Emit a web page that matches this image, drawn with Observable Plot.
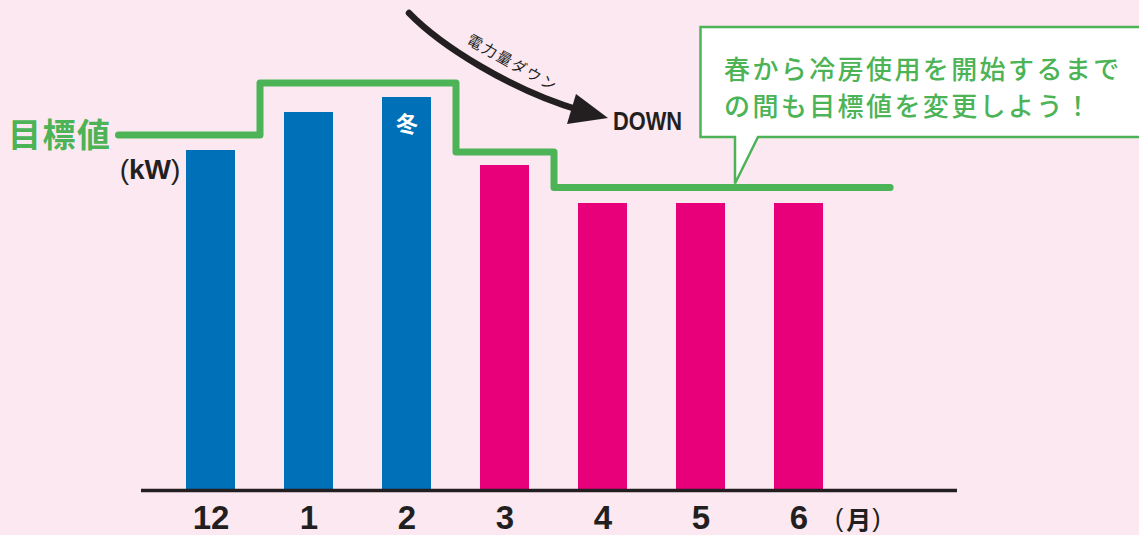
<!DOCTYPE html>
<html><head><meta charset="utf-8">
<script src="https://cdn.jsdelivr.net/npm/d3@7"></script>
<script src="https://cdn.jsdelivr.net/npm/@observablehq/plot@0.6"></script>
<style>
html,body{margin:0;padding:0;background:#fce8f0;overflow:hidden;}
#chart{width:1139px;height:535px;}
svg{display:block;}
</style></head><body><div id="chart"></div>
<script>
// ---- data ----
const months  = ["12","1","2","3","4","5","6"];
const usage   = [340, 378, 393, 325, 287, 287, 287];   // 電力量 (kW, arbitrary units)
const target  = [355.5, 407.5, 407.5, 338.5, 303, 303, 303]; // 目標値
const seasons = ["冬","冬","冬","春","春","春","春"];
const seasonLabel = "冬";
const unitY = "kW";
const unitX = "月";
const targetLabel = "目標値";
const arrowLabel = "電力量ダウン";
const downLabel = "DOWN";
const bubbleLines = ["春から冷房使用を開始するまで", "の間も目標値を変更しよう！"];

const BLUE = "#0070b8", MAGENTA = "#e8007b", GREEN = "#4cb356", INK = "#231f20";

const data = months.map((m, i) => ({i, month: m, usage: usage[i], season: seasons[i]}));
// target step line: change points half-way between months
const lineStart = -0.944, lineEnd = 6.93;
const stepPts = [{x: lineStart, y: target[0]}];
for (let i = 1; i < months.length; i++) stepPts.push({x: i - 0.5, y: target[i]});
stepPts.push({x: lineEnd, y: target[target.length - 1]});

const plot = Plot.plot({
  width: 1139, height: 535,
  marginLeft: 141, marginRight: 182, marginTop: 0, marginBottom: 45,
  style: {background: "transparent", fontFamily: "'Liberation Sans','Noto Sans CJK JP',sans-serif", overflow: "visible"},
  x: {domain: [0, 6], range: [210.5, 798.5]},
  y: {domain: [0, 490], range: [490, 0], axis: null},
  color: {domain: ["冬","春"], range: [BLUE, MAGENTA]},
  marks: [
    Plot.rectY(data, {x1: d => d.i - 0.25, x2: d => d.i + 0.25, y1: 0, y2: "usage", fill: "season"}),
    Plot.ruleY([0], {stroke: INK, strokeWidth: 3.5}),
    Plot.line(stepPts, {x: "x", y: "y", curve: "step-after", stroke: GREEN, strokeWidth: 7, strokeLinejoin: "round", strokeLinecap: "round"}),
    Plot.axisX({ticks: d3.range(months.length), tickFormat: i => months[i], tickSize: 0, tickPadding: 15, fontSize: 33, fontWeight: "bold", color: INK, label: null}),
    Plot.text(data.filter(d => d.season === seasonLabel && d.i === 2), {x: "i", y: "usage", text: () => seasonLabel, dy: 27, fill: "white", fontSize: 22, fontWeight: "bold", fontFamily: "'Noto Sans CJK JP'"})
  ]
});
document.getElementById("chart").appendChild(plot);

const svg = d3.select(plot);
const xs = plot.scale("x"), ys = plot.scale("y");
const cjk = "'Noto Sans CJK JP',sans-serif";

// 目標値 label
svg.append("text").attr("x", 8).attr("y", ys.apply(target[0]) - 1.5).attr("text-anchor", "start")
  .attr("dominant-baseline", "central").attr("fill", GREEN)
  .style("font-family", cjk).style("font-weight", "bold").style("font-size", "33px").style("letter-spacing", "1.5px")
  .text(targetLabel);

// (kW)
const kw = svg.append("text").attr("x", 150).attr("y", 169).attr("text-anchor", "middle")
  .attr("dominant-baseline", "central").attr("fill", INK).style("font-size", "28px");
kw.append("tspan").style("font-weight", "normal").text("(");
kw.append("tspan").style("font-weight", "bold").text(unitY);
kw.append("tspan").style("font-weight", "normal").text(")");

// (月)
const mo = svg.append("text").attr("x", 835).attr("y", 518).attr("text-anchor", "start").attr("dominant-baseline", "central")
  .attr("fill", INK).style("font-size", "25px").style("font-family", cjk);
mo.append("tspan").style("font-weight", "normal").style("font-family", "'Liberation Sans'").text("(");
mo.append("tspan").attr("dx", 3).style("font-weight", "bold").text(unitX);
mo.append("tspan").attr("dx", 1).style("font-weight", "normal").style("font-family", "'Liberation Sans'").text(")");

// curved arrow
svg.append("path").attr("d", "M409,13 C440,45 510,90 582,111")
  .attr("fill", "none").attr("stroke", INK).attr("stroke-width", 6.5).attr("stroke-linecap", "round");
svg.append("path").attr("d", "M608,118 L576,94 L567,124 Z").attr("fill", INK);
svg.append("text").attr("x", 513).attr("y", 62).attr("text-anchor", "middle").attr("dominant-baseline", "central")
  .attr("transform", "rotate(29,513,62)").attr("fill", INK)
  .style("font-family", cjk).style("font-size", "15px").style("letter-spacing", "1.8px").text(arrowLabel);
svg.append("text").attr("x", 613).attr("y", 121).attr("text-anchor", "start").attr("dominant-baseline", "central")
  .attr("textLength", 69).attr("lengthAdjust", "spacingAndGlyphs").attr("fill", INK)
  .style("font-weight", "bold").style("font-size", "25px").text(downLabel);

// speech bubble
const tipX = 735, tipY = ys.apply(target[6]) - 3.5;
svg.append("path").attr("d", `M1150,27 H700.5 V137 H${tipX} V${tipY} L758,137 H1150 Z`)
  .attr("fill", "white").attr("stroke", GREEN).attr("stroke-width", 2.5).attr("stroke-linejoin", "miter");
bubbleLines.forEach((t, k) => {
  svg.append("text").attr("x", 724).attr("y", 67 + k * 37).attr("text-anchor", "start").attr("dominant-baseline", "central")
    .attr("fill", GREEN).style("font-family", cjk).style("font-size", "26px").style("font-weight", "500").style("letter-spacing", "2.4px").text(t);
});
</script></body></html>
